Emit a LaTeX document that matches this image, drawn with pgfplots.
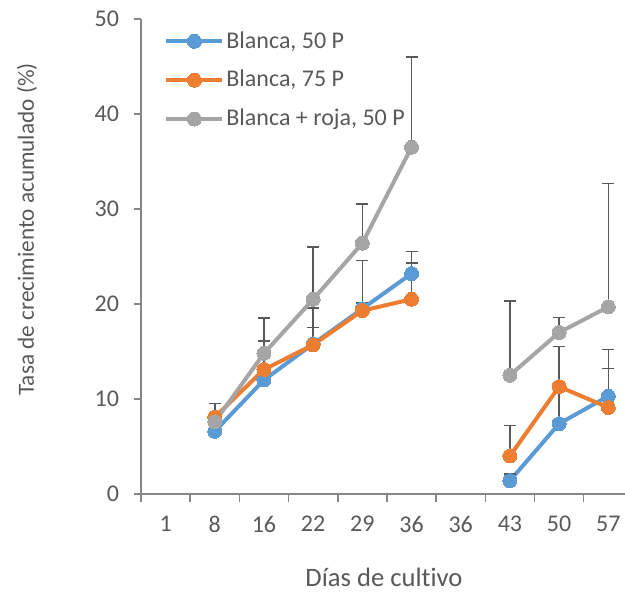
\documentclass[border=0pt]{standalone}
\usepackage{fontspec}
\setmainfont{Carlito}[Ligatures={NoCommon}]
\usepackage{pgfplots}
\pgfplotsset{compat=1.18}
\definecolor{cblue}{HTML}{5B9BD5}
\definecolor{corange}{HTML}{ED7D31}
\definecolor{cgray}{HTML}{A5A5A5}
\definecolor{ctext}{HTML}{595959}
\definecolor{caxis}{HTML}{868686}
\definecolor{cerr}{HTML}{595959}
\pgfplotsset{myerr/.style={error bars/y dir=plus, error bars/y explicit, error bars/error mark=-,
   error bars/error mark options={line width=0.75pt, mark size=3pt, cerr, rotate=90},
   error bars/error bar style={line width=0.75pt, cerr}}}
\begin{document}
\begin{tikzpicture}
\path[use as bounding box] (-70.5pt,-49pt) rectangle (242pt,247pt);
\begin{axis}[
 at={(0,0)}, anchor=south west,
 scale only axis, width=242pt, height=237.5pt,
 xmin=-0.5, xmax=9.34, ymin=0, ymax=50,
 axis x line*=bottom, axis y line*=left,
 axis line style={caxis, line width=0.75pt, -},
 xtick={0,...,9}, xticklabels={1,8,16,22,29,36,36,43,50,57},
 minor xtick={-0.5,0.5,...,8.5},
 ytick={0,10,...,50},
 tick align=outside,
 major tick length=3.5pt, minor tick length=4pt,
 major x tick style={draw=none},
 minor x tick style={caxis, line width=0.75pt},
 ytick style={caxis, line width=0.75pt},
 tick label style={font=\fontsize{12}{14}\selectfont, text=ctext},
 yticklabel style={xshift=-4pt},
 xticklabel style={yshift=-4pt},
 /pgf/number format/assume math mode=true,
 ylabel={Tasa de crecimiento acumulado (\%)},
 ylabel style={at={(axis description cs:-0.2355,0.557)}, anchor=center, font=\fontsize{11.6}{13}\selectfont, text=ctext},
 xlabel={Días de cultivo},
 xlabel style={at={(axis description cs:0.502,0)}, anchor=center, inner sep=1pt, yshift=-41.5pt, font=\fontsize{13.3}{15}\selectfont, text=ctext},
 legend style={at={(axis description cs:0.0475,0.983)}, anchor=north west, draw=none, fill=none, inner sep=0pt,
   font=\fontsize{12}{14}\selectfont, text=ctext, row sep=5.6pt, nodes={inner xsep=1pt}},
 legend cell align=left,
 legend image code/.code={\draw[mark repeat=2,mark phase=2,#1] plot coordinates {(0pt,0pt) (14pt,0pt) (28pt,0pt)};},
]
% Blanca, 50 P
\addplot[cblue, line width=2pt, mark=*, mark size=3.5pt, mark options={fill=cblue, draw=cblue, line width=0pt}, myerr] coordinates {
 (1,6.6) +- (0,0) (2,12.0) +- (0,0) (3,15.8) +- (0,1.7) (4,19.5) +- (0,0.6) (5,23.2) +- (0,2.3)};
\addlegendentry{Blanca, 50 P}
\addplot[cblue, line width=2pt, mark=*, mark size=3.5pt, mark options={fill=cblue, draw=cblue, line width=0pt}, myerr, forget plot] coordinates {
 (7,1.4) +- (0,0.7) (8,7.4) +- (0,8.1) (9,10.3) +- (0,4.9)};
% Blanca, 75 P
\addplot[corange, line width=2pt, mark=*, mark size=3.5pt, mark options={fill=corange, draw=corange, line width=0pt}, myerr] coordinates {
 (1,8.1) +- (0,0) (2,13.1) +- (0,3.0) (3,15.7) +- (0,3.9) (4,19.3) +- (0,5.3) (5,20.5) +- (0,3.8)};
\addlegendentry{Blanca, 75 P}
\addplot[corange, line width=2pt, mark=*, mark size=3.5pt, mark options={fill=corange, draw=corange, line width=0pt}, myerr, forget plot] coordinates {
 (7,4.0) +- (0,3.2) (8,11.3) +- (0,4.2) (9,9.1) +- (0,4.1)};
% Blanca + roja, 50 P
\addplot[cgray, line width=2pt, mark=*, mark size=3.5pt, mark options={fill=cgray, draw=cgray, line width=0pt}, myerr] coordinates {
 (1,7.6) +- (0,1.9) (2,14.8) +- (0,3.7) (3,20.5) +- (0,5.5) (4,26.4) +- (0,4.1) (5,36.5) +- (0,9.5)};
\addlegendentry{Blanca + roja, 50 P}
\addplot[cgray, line width=2pt, mark=*, mark size=3.5pt, mark options={fill=cgray, draw=cgray, line width=0pt}, myerr, forget plot] coordinates {
 (7,12.5) +- (0,7.8) (8,17.0) +- (0,1.6) (9,19.7) +- (0,13.0)};
\end{axis}
\end{tikzpicture}
\end{document}
